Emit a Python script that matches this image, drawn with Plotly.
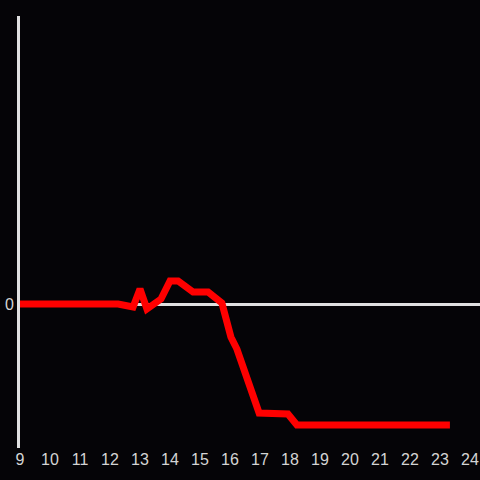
import plotly.graph_objects as go

x_vals = [9, 12.27, 12.77, 13.0, 13.23, 13.7, 14.0, 14.27, 14.77, 15.27, 15.73,
          16.03, 16.23, 16.7, 16.97, 17.93, 18.23, 23.33]
y_vals = [0, 0, -0.3, 1.5, -0.5, 0.5, 2.3, 2.3, 1.2, 1.2, 0.1,
          -3.3, -4.5, -8.3, -10.9, -11.0, -12.1, -12.1]

tick_x = list(range(9, 25))

fig = go.Figure(go.Scatter(
    x=x_vals, y=y_vals, mode="lines",
    line=dict(color="#ff0000", width=7),
    hoverinfo="skip",
))

bg = "#050407"
fig.update_layout(
    width=480, height=480,
    paper_bgcolor=bg, plot_bgcolor=bg,
    margin=dict(l=20, r=0, t=16, b=32),
    showlegend=False,
    font=dict(family="Liberation Sans, Arial, sans-serif", size=16, color="#d4d4d4"),
    xaxis=dict(range=[9, 24.333], tickvals=tick_x, ticktext=[str(t) for t in tick_x],
               showgrid=False, zeroline=False, showline=False, ticks=""),
    yaxis=dict(range=[-14.4, 28.8], tickvals=[0], ticktext=["0"],
               showgrid=False, zeroline=True, zerolinecolor="#e0e0e0", zerolinewidth=3,
               showline=True, linecolor="#e0e0e0", linewidth=3, ticks=""),
)

fig.write_html(
    "out.html",
    config={"displayModeBar": False},
    post_script="document.body.style.margin='0';document.body.style.background='%s';" % bg,
)
